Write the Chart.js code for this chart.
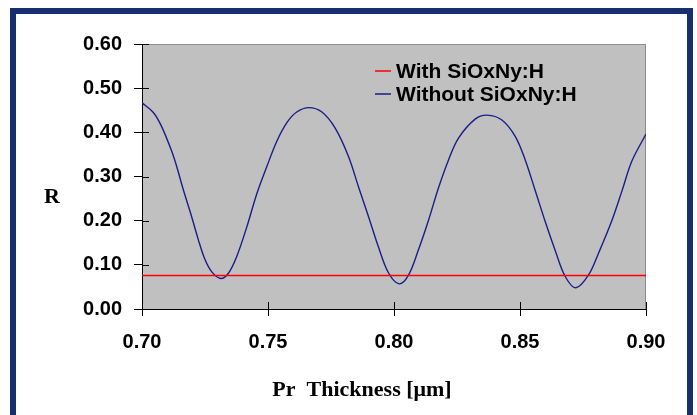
<!DOCTYPE html>
<html>
<head>
<meta charset="utf-8">
<script src="https://cdn.jsdelivr.net/npm/chart.js@4.4.1/dist/chart.umd.min.js"></script>
<style>
    html, body { margin: 0; padding: 0; background: #fff; overflow: hidden; }
    #frame {
        position: absolute; left: 10px; top: 8px;
        width: 671px; height: 440px;
        border: 6px solid #172f6e; background: #fff;
    }
    #reflectChart { position: absolute; left: 0; top: 0; }
</style>
</head>
<body>
<div id="frame"></div>
<canvas id="reflectChart" width="697" height="415"></canvas>
<script>
// Pr thickness (um) and reflectance
const thickness = [0.700, 0.7045, 0.7078, 0.7118, 0.7138, 0.7164, 0.7197, 0.7224, 0.725, 0.7277,
    0.7312, 0.7343, 0.7376, 0.7416, 0.7455, 0.7495, 0.7535, 0.7575, 0.7614, 0.7662,
    0.7714, 0.7766, 0.7819, 0.7859, 0.7899, 0.7938, 0.7978, 0.8020, 0.8057, 0.8097,
    0.8137, 0.8177, 0.8216, 0.8256, 0.8322, 0.8369, 0.8428, 0.8481, 0.8521, 0.8560,
    0.8600, 0.8640, 0.8680, 0.8722, 0.8772, 0.8812, 0.8865, 0.8905, 0.8944, 0.900];
const withoutR = [0.467, 0.445, 0.413, 0.357, 0.322, 0.270, 0.209, 0.156, 0.112, 0.084,
    0.069, 0.081, 0.119, 0.186, 0.260, 0.322, 0.380, 0.422, 0.446, 0.456,
    0.446, 0.410, 0.346, 0.277, 0.209, 0.141, 0.082, 0.057, 0.076, 0.134,
    0.201, 0.275, 0.337, 0.387, 0.430, 0.439, 0.428, 0.391, 0.337, 0.269,
    0.198, 0.132, 0.073, 0.048, 0.077, 0.127, 0.201, 0.268, 0.335, 0.396];

// the coated curve is flat
const withX = [0.70, 0.75, 0.80, 0.85, 0.90];
const withR = [0.076, 0.076, 0.076, 0.076, 0.076];

const xTicks = [0.70, 0.75, 0.80, 0.85, 0.90];
const yTicks = [0.00, 0.10, 0.20, 0.30, 0.40, 0.50, 0.60];

const seriesLabels = ['With SiOxNy:H', 'Without SiOxNy:H'];

document.addEventListener("DOMContentLoaded", function () {

    const canvas = document.getElementById('reflectChart');
    const ctx = canvas.getContext('2d');

    // gray plot background plus the thin gray top/right edges
    const plotBackground = {
        id: 'plotBackground',
        beforeDraw(chart) {
            const a = chart.chartArea;
            const c = chart.ctx;
            c.save();
            c.fillStyle = '#c0c0c0';
            c.fillRect(a.left, a.top, a.right - a.left, a.bottom - a.top);
            c.strokeStyle = '#8c8c8c';
            c.lineWidth = 1;
            c.beginPath();
            c.moveTo(a.left, a.top + 0.5);
            c.lineTo(a.right - 0.5, a.top + 0.5);
            c.lineTo(a.right - 0.5, a.bottom);
            c.stroke();
            c.restore();
        }
    };

    // ticks that also go into the plot, legend inside, and the titles
    const extras = {
        id: 'extras',
        afterDraw(chart) {
            const c = chart.ctx;
            const a = chart.chartArea;
            const xs = chart.scales.x;
            const ys = chart.scales.y;
            c.save();
            c.strokeStyle = '#000';
            c.lineWidth = 1;
            c.beginPath();
            xTicks.forEach(function (t) {
                const px = Math.round(xs.getPixelForValue(t)) + 0.5;
                c.moveTo(px, a.bottom);
                c.lineTo(px, a.bottom - 7);
            });
            yTicks.forEach(function (t) {
                const py = Math.round(ys.getPixelForValue(t)) + 0.5;
                c.moveTo(a.left, py);
                c.lineTo(a.left + 7, py);
            });
            c.stroke();

            // legend
            c.font = 'bold 21px "Liberation Sans", Arial, sans-serif';
            c.textBaseline = 'middle';
            c.fillStyle = '#000';
            chart.data.datasets.forEach(function (ds, i) {
                const y = 71 + i * 23;
                c.strokeStyle = ds.borderColor;
                c.lineWidth = 1.5;
                c.beginPath();
                c.moveTo(375, y);
                c.lineTo(391, y);
                c.stroke();
                c.fillText(ds.label, 396, y + 1);
            });

            // axis titles
            c.font = 'bold 22px "Liberation Serif", "Times New Roman", serif';
            c.textAlign = 'center';
            c.fillText('R', 52, 197);
            c.fillText('Pr  Thickness [\u03bcm]', 362, 390);
            c.restore();
        }
    };

    const tickFont = { family: '"Liberation Sans", Arial, sans-serif', size: 20, weight: 'bold' };

    new Chart(ctx, {
        type: 'scatter',
        data: {
            datasets: [{
                label: seriesLabels[0],
                data: withX.map(function (t, i) { return { x: t, y: withR[i] }; }),
                showLine: true,
                borderColor: '#ff0000',
                borderWidth: 1.5,
                pointRadius: 0
            }, {
                label: seriesLabels[1],
                data: thickness.map(function (t, i) { return { x: t, y: withoutR[i] }; }),
                showLine: true,
                borderColor: '#1c1c8a',
                borderWidth: 1.4,
                pointRadius: 0,
                tension: 0.35
            }]
        },
        options: {
            responsive: false,
            animation: false,
            layout: { padding: { left: 42, top: 44, right: 51, bottom: 0 } },
            plugins: {
                legend: { display: false },
                tooltip: { enabled: false }
            },
            scales: {
                x: {
                    type: 'linear',
                    min: 0.70,
                    max: 0.90,
                    afterBuildTicks(scale) { scale.ticks = xTicks.map(function (v) { return { value: v }; }); },
                    afterFit(scale) { scale.height = 106; },
                    grid: { drawOnChartArea: false, tickLength: 7, color: '#000' },
                    border: { display: true, color: '#000', width: 1 },
                    ticks: {
                        color: '#000',
                        font: tickFont,
                        padding: 14,
                        maxRotation: 0,
                        callback: function (v) { return v.toFixed(2); }
                    }
                },
                y: {
                    min: 0,
                    max: 0.6,
                    afterBuildTicks(scale) { scale.ticks = yTicks.map(function (v) { return { value: v }; }); },
                    afterFit(scale) { scale.width = 100; },
                    grid: { drawOnChartArea: false, tickLength: 8, color: '#000' },
                    border: { display: true, color: '#000', width: 1 },
                    ticks: {
                        color: '#000',
                        font: tickFont,
                        padding: 12,
                        callback: function (v) { return v.toFixed(2); }
                    }
                }
            }
        },
        plugins: [plotBackground, extras]
    });
});
</script>
</body>
</html>
